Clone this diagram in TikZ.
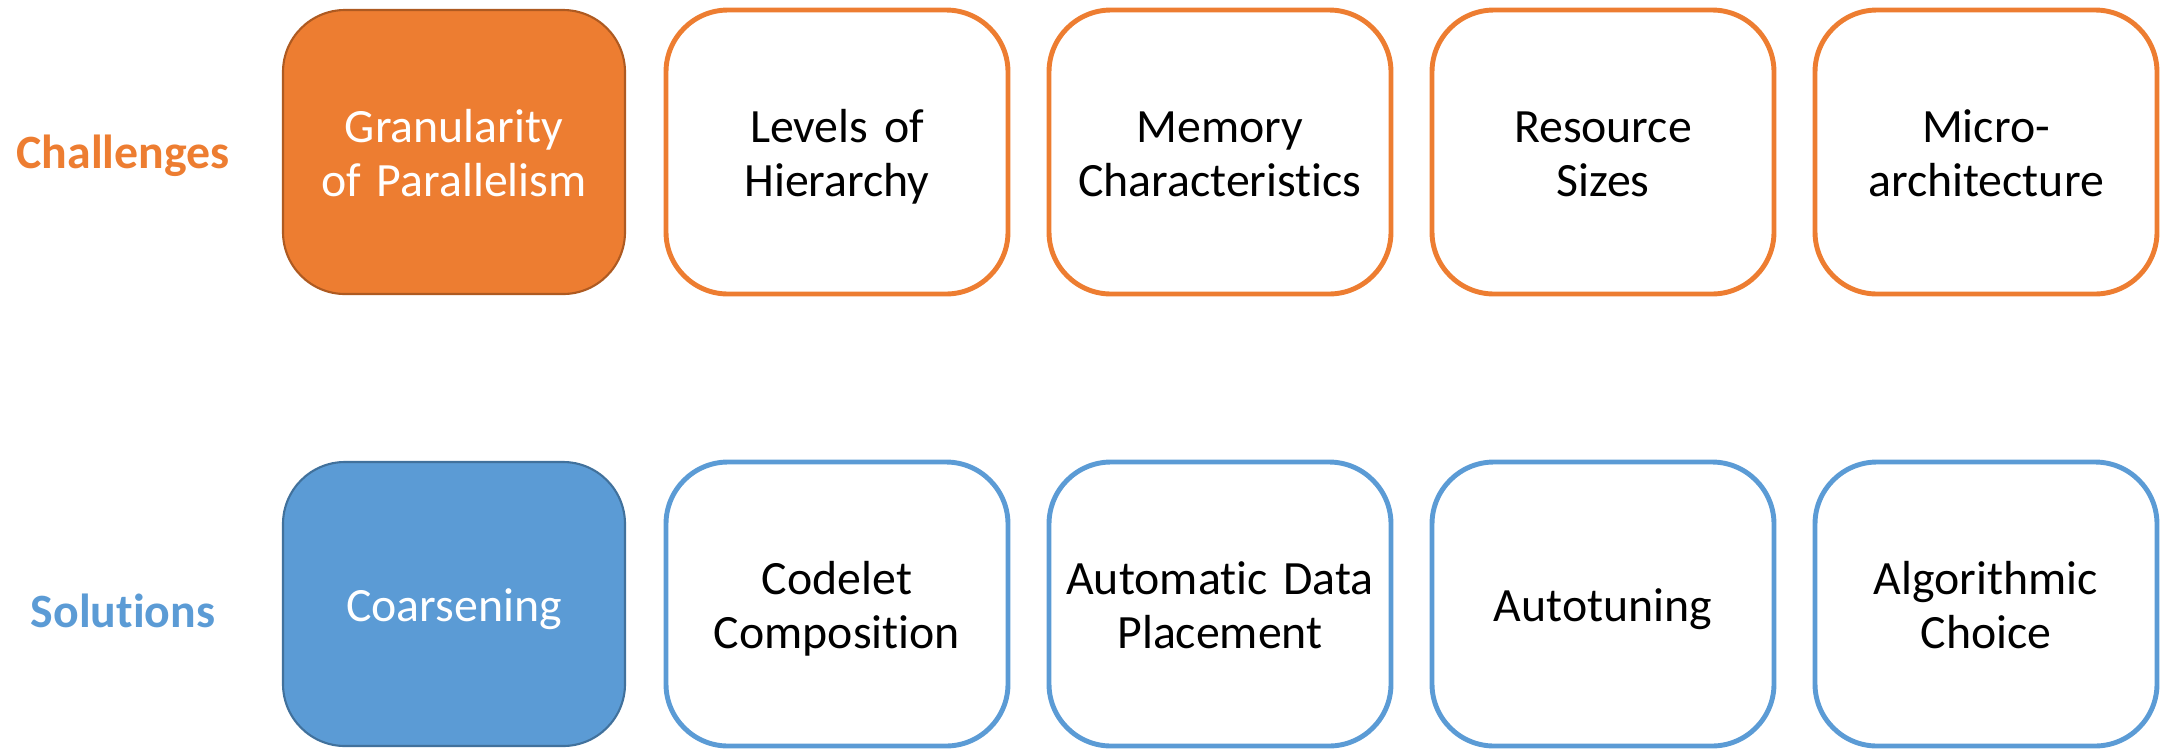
\documentclass[tikz,border=0pt]{standalone}
\usepackage{fontspec}
\setmainfont{Carlito}[Ligatures=NoCommon, WordSpace=0.85]
\usetikzlibrary{positioning}
\definecolor{naranja}{HTML}{ED7D31}
\definecolor{naranjaosc}{HTML}{AE5A21}
\definecolor{azul}{HTML}{5B9BD5}
\definecolor{azulosc}{HTML}{41719C}
\tikzset{
  caja/.style={rounded corners=0.62cm, minimum width=3.42cm, minimum height=2.84cm,
    text width=3.3cm, align=center, inner sep=0pt, outer sep=0pt,
    font=\fontsize{13.6}{15.4}\selectfont,
    execute at begin node=\rule{0pt}{0.95em},
    execute at end node=\rule[-0.22em]{0pt}{0pt}},
  reto/.style={caja, draw=naranja, line width=1.4pt},
  solucion/.style={caja, draw=azul, line width=1.4pt},
  titulo/.style={font=\fontsize{13.6}{15.4}\selectfont\bfseries}
}
\begin{document}
\begin{tikzpicture}[node distance=0.41cm]
        \useasboundingbox (0,0) rectangle (21.7,-7.5);
        % Fila de retos
        \node[titulo, text=naranja] (retos) at (1.23,-1.56) {Challenges};
        \node[caja, draw=naranjaosc, fill=naranja, text=white, line width=0.6pt]
            (gran) at (4.54,-1.52) {Granularity\\ of Parallelism};
        \node[reto, right=of gran] (nivel) {Levels of\\ Hierarchy};
        \node[reto, right=of nivel] (mem) {Memory\\ Characteristics};
        \node[reto, right=of mem] (rec) {Resource\\ Sizes};
        \node[reto, right=of rec] (micro) {Micro-\\ architecture};
        % Fila de soluciones
        \node[titulo, text=azul] (sols) at (1.23,-6.11) {Solutions};
        \node[caja, draw=azulosc, fill=azul, text=white, line width=0.6pt,
            below=1.68cm of gran] (coars) {Coarsening};
        \node[solucion, right=of coars] (codelet) {Codelet\\ Composition};
        \node[solucion, right=of codelet] (datos) {Automatic Data\\ Placement};
        \node[solucion, right=of datos] (auto) {Autotuning};
        \node[solucion, right=of auto] (algo) {Algorithmic\\ Choice};
    \end{tikzpicture}
\end{document}
